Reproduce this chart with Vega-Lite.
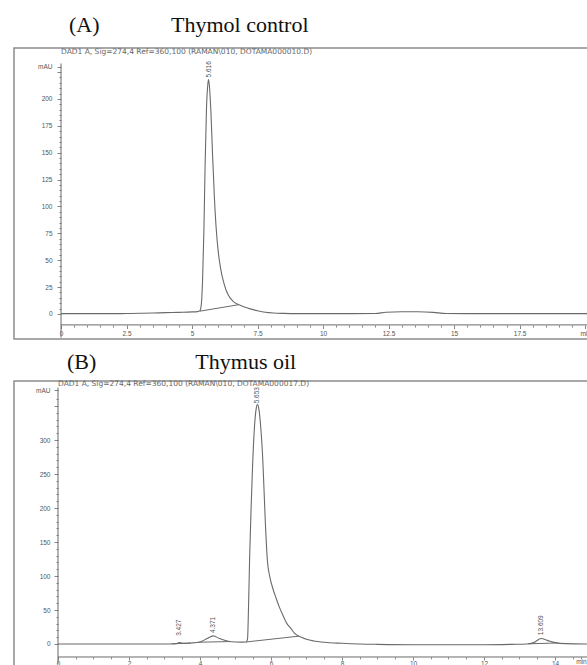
{
  "$schema": "https://vega.github.io/schema/vega-lite/v6.json",
  "padding": {"left": 13, "top": 13, "right": 0, "bottom": 0},
  "background": "white",
  "spacing": 10,
  "config": {
    "view": {"stroke": "#8c8c8c", "strokeWidth": 1.5},
    "axis": {"grid": false, "domain": false, "labelFont": "Liberation Sans", "labelFontSize": 6.5, "labelColor": "#555", "tickColor": "#666", "tickWidth": 0.8, "labelOverlap": false, "labelBound": false, "labelFlush": false, "title": null}
  },
  "datasets": {
    "a": [
      {"t": 0, "y": 0.3}, {"t": 1, "y": 0.3}, {"t": 2, "y": 0.3}, {"t": 2.5, "y": 0.4}, {"t": 3, "y": 0.6}, {"t": 3.5, "y": 0.9},
      {"t": 4, "y": 1.2}, {"t": 4.5, "y": 1.5}, {"t": 5, "y": 1.9}, {"t": 5.2, "y": 2.2}, {"t": 5.3, "y": 3}, {"t": 5.35, "y": 8},
      {"t": 5.4, "y": 30}, {"t": 5.45, "y": 75}, {"t": 5.5, "y": 140}, {"t": 5.55, "y": 190}, {"t": 5.6, "y": 213}, {"t": 5.63, "y": 218},
      {"t": 5.67, "y": 210}, {"t": 5.72, "y": 188}, {"t": 5.78, "y": 150}, {"t": 5.85, "y": 110}, {"t": 5.92, "y": 80}, {"t": 6.0, "y": 58},
      {"t": 6.1, "y": 41}, {"t": 6.2, "y": 30}, {"t": 6.3, "y": 22}, {"t": 6.4, "y": 17}, {"t": 6.5, "y": 13.5}, {"t": 6.6, "y": 11},
      {"t": 6.7, "y": 9.5}, {"t": 6.8, "y": 8.5}, {"t": 6.9, "y": 7.5}, {"t": 7.0, "y": 6.5}, {"t": 7.25, "y": 4.5}, {"t": 7.5, "y": 3},
      {"t": 7.8, "y": 1.6}, {"t": 8.1, "y": 0.9}, {"t": 8.5, "y": 0.5}, {"t": 9, "y": 0.3}, {"t": 10, "y": 0.3}, {"t": 11, "y": 0.3},
      {"t": 12, "y": 0.4}, {"t": 12.4, "y": 1.6}, {"t": 13, "y": 2}, {"t": 13.6, "y": 2}, {"t": 14.2, "y": 1.5}, {"t": 14.7, "y": 0.4},
      {"t": 15.5, "y": 0.3}, {"t": 17, "y": 0.3}, {"t": 18.5, "y": 0.3}, {"t": 20.11, "y": 0.3}
    ],
    "a_base": [
      {"t": 5.3, "y": 2.6, "s": 1}, {"t": 6.78, "y": 8.6, "s": 1}
    ],
    "a_lab": [
      {"t": 5.63, "y": 220, "lab": "5.616"}
    ],
    "a_head": [
      {"t": 0, "y": 243.7, "lab": "DAD1 A, Sig=274,4 Ref=360,100 (RAMAN\\010, DOTAMA000010.D)"}
    ],
    "a_axes": [
      {"t": 0, "t2": 20.11, "y": -10.2, "y2": -10.2},
      {"t": 0, "t2": 0, "y": -22, "y2": 233}
    ],
    "b": [
      {"t": 0, "y": 0}, {"t": 1, "y": 0}, {"t": 2, "y": 0}, {"t": 3, "y": 0}, {"t": 3.3, "y": 0.3}, {"t": 3.42, "y": 2},
      {"t": 3.55, "y": 1}, {"t": 3.75, "y": 1.5}, {"t": 4.0, "y": 3}, {"t": 4.2, "y": 8}, {"t": 4.37, "y": 12}, {"t": 4.55, "y": 8},
      {"t": 4.8, "y": 4}, {"t": 5.0, "y": 3}, {"t": 5.2, "y": 2.8}, {"t": 5.3, "y": 3}, {"t": 5.34, "y": 8}, {"t": 5.37, "y": 60},
      {"t": 5.4, "y": 130}, {"t": 5.44, "y": 200}, {"t": 5.48, "y": 260}, {"t": 5.53, "y": 315}, {"t": 5.58, "y": 345}, {"t": 5.62, "y": 352},
      {"t": 5.66, "y": 345}, {"t": 5.71, "y": 320}, {"t": 5.77, "y": 270}, {"t": 5.84, "y": 180}, {"t": 5.9, "y": 122}, {"t": 5.97, "y": 98},
      {"t": 6.05, "y": 82}, {"t": 6.14, "y": 68}, {"t": 6.23, "y": 55}, {"t": 6.33, "y": 43}, {"t": 6.45, "y": 30}, {"t": 6.56, "y": 23},
      {"t": 6.66, "y": 16}, {"t": 6.76, "y": 12}, {"t": 6.9, "y": 9}, {"t": 7.0, "y": 7}, {"t": 7.2, "y": 4.5}, {"t": 7.5, "y": 2.5},
      {"t": 8.0, "y": 1}, {"t": 8.5, "y": 0}, {"t": 9, "y": -0.5}, {"t": 10, "y": -1}, {"t": 12, "y": -1}, {"t": 12.8, "y": -0.5},
      {"t": 13.2, "y": 0}, {"t": 13.4, "y": 2}, {"t": 13.61, "y": 8}, {"t": 13.8, "y": 5}, {"t": 14.0, "y": 2}, {"t": 14.3, "y": 0.5},
      {"t": 14.93, "y": 0}
    ],
    "b_base": [
      {"t": 3.2, "y": 0.2, "s": 1}, {"t": 3.75, "y": 1.4, "s": 1},
      {"t": 3.95, "y": 2.6, "s": 2}, {"t": 4.85, "y": 3.6, "s": 2},
      {"t": 5.3, "y": 3, "s": 3}, {"t": 6.78, "y": 11.5, "s": 3},
      {"t": 13.25, "y": 0.3, "s": 4}, {"t": 14.1, "y": 1.5, "s": 4}
    ],
    "b_lab": [
      {"t": 3.42, "y": 12, "lab": "3.427"},
      {"t": 4.37, "y": 16, "lab": "4.371"},
      {"t": 5.62, "y": 354, "lab": "5.653"},
      {"t": 13.61, "y": 13, "lab": "13.609"}
    ],
    "b_head": [
      {"t": 0, "y": 382, "lab": "DAD1 A, Sig=274,4 Ref=360,100 (RAMAN\\010, DOTAMA000017.D)"}
    ],
    "b_axes": [
      {"t": 0, "t2": 14.93, "y": -19.1, "y2": -19.1},
      {"t": 0, "t2": 0, "y": -30, "y2": 377}
    ]
  },
  "vconcat": [
    {
      "width": 574,
      "height": 291,
      "title": {"text": "(A)\u00a0\u00a0\u00a0\u00a0\u00a0\u00a0\u00a0\u00a0\u00a0\u00a0\u00a0\u00a0\u00a0Thymol control", "anchor": "start", "dx": 55, "font": "Liberation Serif", "fontSize": 22, "fontWeight": "normal", "color": "#111", "offset": 11},
      "encoding": {
        "x": {"field": "t", "type": "quantitative", "title": null,
          "scale": {"domain": [-1.794, 20.11], "nice": false, "zero": false},
          "axis": {"orient": "bottom", "offset": -14, "format": "~g",
            "values": [0,0.5,1,1.5,2,2.5,3,3.5,4,4.5,5,5.5,6,6.5,7,7.5,8,8.5,9,9.5,10,10.5,11,11.5,12,12.5,13,13.5,14,14.5,15,15.5,16,16.5,17,17.5,18,18.5,19,19.5,20],
            "labelExpr": "datum.value == 20 ? 'min' : (datum.value % 2.5 == 0 ? datum.label : '')",
            "tickSize": {"condition": {"test": "datum.value % 2.5 == 0", "value": 3.5}, "value": 2},
            "labelPadding": 2}},
        "y": {"field": "y", "type": "quantitative", "title": null,
          "scale": {"domain": [-23.3, 247.4], "nice": false, "zero": false},
          "axis": {"orient": "left", "offset": -47,
            "values": [0,5,10,15,20,25,30,35,40,45,50,55,60,65,70,75,80,85,90,95,100,105,110,115,120,125,130,135,140,145,150,155,160,165,170,175,180,185,190,195,200,205,210,215,220,225,230],
            "labelExpr": "datum.value == 230 ? 'mAU' : ((datum.value % 25 == 0 && datum.value <= 200) ? datum.label : '')",
            "tickSize": {"condition": {"test": "datum.value % 25 == 0 || datum.value == 230", "value": 4}, "value": 2},
            "labelPadding": 5}}
      },
      "layer": [
        {
          "data": {"name": "a"},
          "mark": {"type": "line", "color": "#6a6a6a", "strokeWidth": 1.1, "interpolate": "monotone"}
        },
        {
          "data": {"name": "a_base"},
          "mark": {"type": "line", "color": "#6a6a6a", "strokeWidth": 1},
          "encoding": {"detail": {"field": "s"}}
        },
        {
          "data": {"name": "a_axes"},
          "mark": {"type": "rule", "color": "#6a6a6a", "strokeWidth": 1},
          "encoding": {"x2": {"field": "t2"}, "y2": {"field": "y2"}}
        },
        {
          "data": {"name": "a_lab"},
          "mark": {"type": "text", "angle": 270, "align": "left", "baseline": "middle", "font": "Liberation Sans", "fontSize": 6.5, "color": "#555"},
          "encoding": {"text": {"field": "lab"}}
        },
        {
          "data": {"name": "a_head"},
          "mark": {"type": "text", "align": "left", "baseline": "middle", "font": "DejaVu Sans", "fontSize": 7.5, "color": "#666"},
          "encoding": {"text": {"field": "lab"}}
        }
      ]
    },
    {
      "width": 574,
      "height": 287,
      "title": {"text": "(B)\u00a0\u00a0\u00a0\u00a0\u00a0\u00a0\u00a0\u00a0\u00a0\u00a0\u00a0\u00a0\u00a0\u00a0\u00a0\u00a0\u00a0\u00a0Thymus oil", "anchor": "start", "dx": 53, "font": "Liberation Serif", "fontSize": 22, "fontWeight": "normal", "color": "#111", "offset": 6},
      "encoding": {
        "x": {"field": "t", "type": "quantitative", "title": null,
          "scale": {"domain": [-1.239, 14.93], "nice": false, "zero": false},
          "axis": {"orient": "bottom", "offset": -11, "format": "~g",
            "values": [0,0.5,1,1.5,2,2.5,3,3.5,4,4.5,5,5.5,6,6.5,7,7.5,8,8.5,9,9.5,10,10.5,11,11.5,12,12.5,13,13.5,14,14.5,14.73],
            "labelExpr": "datum.value > 14.6 ? 'min' : (datum.value % 2 == 0 ? datum.label : '')",
            "tickSize": {"condition": {"test": "datum.value % 2 == 0", "value": 3}, "value": 1.8},
            "labelPadding": 0}},
        "y": {"field": "y", "type": "quantitative", "title": null,
          "scale": {"domain": [-35.3, 386.8], "nice": false, "zero": false},
          "axis": {"orient": "left", "offset": -44,
            "values": [0,10,20,30,40,50,60,70,80,90,100,110,120,130,140,150,160,170,180,190,200,210,220,230,240,250,260,270,280,290,300,310,320,330,340,350,360,373.5],
            "labelExpr": "datum.value > 370 ? 'mAU' : ((datum.value % 50 == 0 && datum.value <= 300) ? datum.label : '')",
            "tickSize": {"condition": {"test": "datum.value % 50 == 0 || datum.value > 370", "value": 4}, "value": 2},
            "labelPadding": 4}}
      },
      "layer": [
        {
          "data": {"name": "b"},
          "mark": {"type": "line", "color": "#6a6a6a", "strokeWidth": 1.1, "interpolate": "monotone"}
        },
        {
          "data": {"name": "b_base"},
          "mark": {"type": "line", "color": "#6a6a6a", "strokeWidth": 1},
          "encoding": {"detail": {"field": "s"}}
        },
        {
          "data": {"name": "b_axes"},
          "mark": {"type": "rule", "color": "#6a6a6a", "strokeWidth": 1},
          "encoding": {"x2": {"field": "t2"}, "y2": {"field": "y2"}}
        },
        {
          "data": {"name": "b_lab"},
          "mark": {"type": "text", "angle": 270, "align": "left", "baseline": "middle", "font": "Liberation Sans", "fontSize": 6.5, "color": "#555"},
          "encoding": {"text": {"field": "lab"}}
        },
        {
          "data": {"name": "b_head"},
          "mark": {"type": "text", "align": "left", "baseline": "middle", "font": "DejaVu Sans", "fontSize": 7.5, "color": "#666"},
          "encoding": {"text": {"field": "lab"}}
        }
      ]
    }
  ]
}
